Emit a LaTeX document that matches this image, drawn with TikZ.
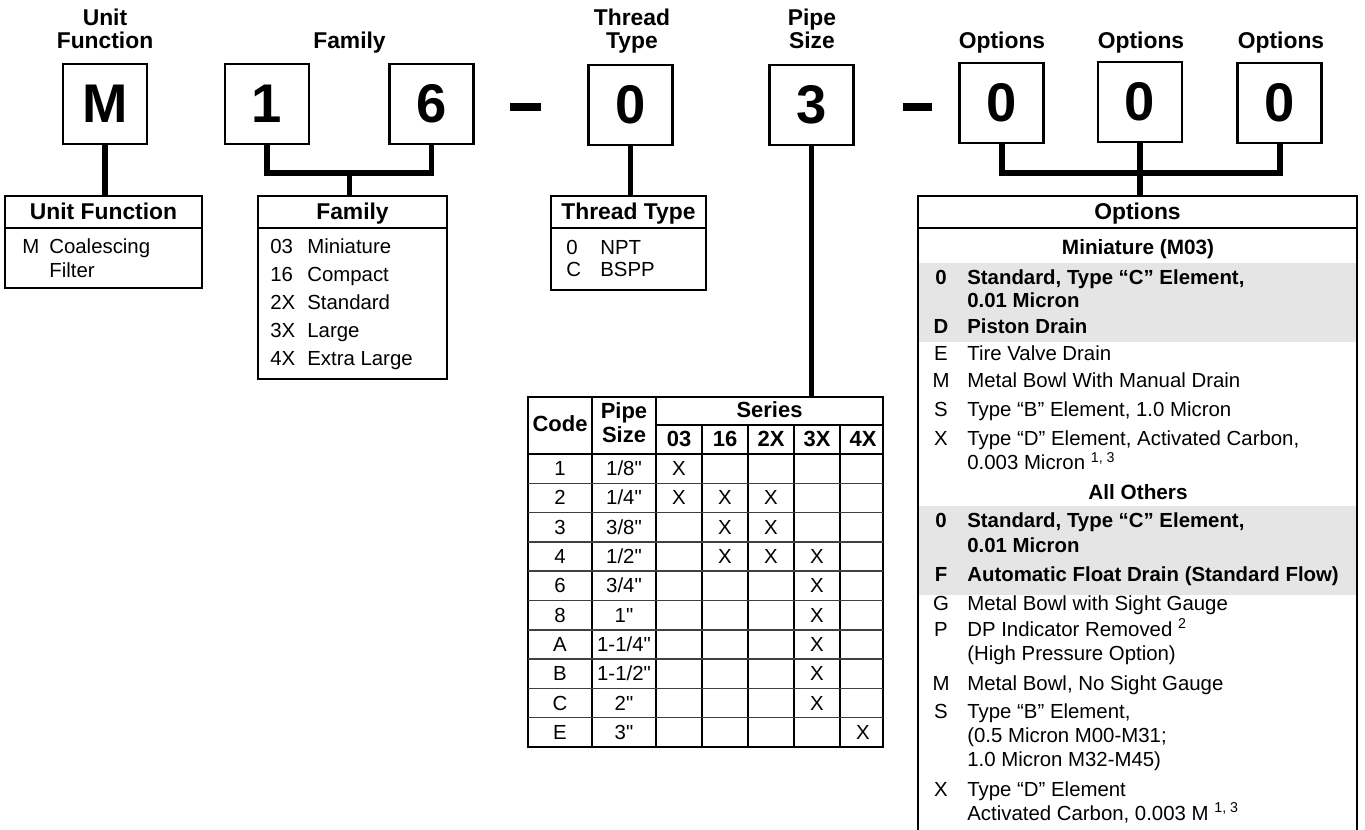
\documentclass[tikz,border=0pt]{standalone}
\usepackage{fontspec}
\setmainfont{Liberation Sans}
\newfontfamily\inchfont{Liberation Sans}
\newcommand{\inch}{{\inchfont\char34}}
\usetikzlibrary{positioning}

\tikzset{
  digitbox/.style={draw, line width=1.5pt, minimum width=1.68cm, minimum height=1.6cm,
    inner sep=0pt, font=\fontsize{31}{31}\selectfont\bfseries},
  toplabel/.style={font=\fontsize{13}{13.1}\selectfont\bfseries, align=center, anchor=base, inner sep=0pt},
  infobox/.style={draw, line width=1.5pt, inner sep=0pt},
  boxhead/.style={font=\fontsize{13}{13}\selectfont\bfseries, anchor=base, inner sep=0pt},
  subhead/.style={font=\fontsize{11.8}{13}\selectfont\bfseries, anchor=base, inner sep=0pt},
  codetxt/.style={font=\fontsize{11.6}{13}\selectfont, anchor=base west, inner sep=0pt},
  desctxt/.style={font=\fontsize{11.6}{13}\selectfont, anchor=base west, inner sep=0pt},
  optcode/.style={font=\fontsize{11.6}{13}\selectfont, anchor=base, inner sep=0pt},
  optbold/.style={font=\fontsize{11.6}{13}\selectfont\bfseries},
  tabhead/.style={font=\fontsize{12.5}{13}\selectfont\bfseries, anchor=base, inner sep=0pt},
  cell/.style={font=\fontsize{11.6}{13}\selectfont, anchor=base, inner sep=0pt},
  link/.style={line width=3.4pt},
  hyphenbar/.style={line width=4.4pt},
  headrule/.style={line width=1.5pt},
  colrule/.style={line width=1.4pt},
  rowrule/.style={line width=0.9pt, black!75},
  band/.style={fill=black!10}
}

\begin{document}
\begin{tikzpicture}[x=0.02cm, y=-0.02cm]
  \useasboundingbox (0,0) rectangle (1365,830);

  % === model code ===
  \node[digitbox] (unit) at (105,104) {M};
  \node[digitbox] (fam1) at (267,104) {1};
  \node[digitbox] (fam2) at (431.5,104) {6};
  \node[digitbox] (thread) at (630.5,105) {0};
  \node[digitbox] (pipe) at (811.5,105) {3};
  \node[digitbox] (opt1) at (1001.5,103) {0};
  \node[digitbox] (opt2) at (1140,102) {0};
  \node[digitbox] (opt3) at (1279.5,103) {0};

  % dashes
  \draw[hyphenbar] (510,107) -- (541,107);
  \draw[hyphenbar] (903,107) -- (932,107);

  % labels over the boxes
  \node[toplabel] (lab-unit) at (105,49) {Unit\\Function};
  \node[toplabel] (lab-fam) at (349.5,49) {Family};
  \node[toplabel] (lab-thread) at (632,49) {Thread\\Type};
  \node[toplabel] (lab-pipe) at (812,49) {Pipe\\Size};
  \node[toplabel] (lab-opt1) at (1002,49) {Options};
  \node[toplabel] (lab-opt2) at (1141,49) {Options};
  \node[toplabel] (lab-opt3) at (1281,49) {Options};

  % === BOX: Unit Function ===
  \node[infobox, minimum width=3.94cm, minimum height=1.84cm] (ufbox) at (103.5,242) {};
  \draw[headrule] (ufbox.west |- 0,228) -- (ufbox.east |- 0,228);
  \node[boxhead] (ufhead) at (103.5,220) {Unit Function};
  \node[codetxt] (uf-code) at (22,254) {M};
  \node[desctxt] (uf-text) at (49,254) {Coalescing};
  \node[desctxt] (uf-text2) at (49,278) {Filter};

  % === BOX: Family ===
  \node[infobox, minimum width=3.78cm, minimum height=3.66cm] (fambox) at (352.5,287.5) {};
  \draw[headrule] (fambox.west |- 0,228) -- (fambox.east |- 0,228);
  \node[boxhead] (famhead) at (352.5,220) {Family};
  \foreach \c/\t [count=\i from 0] in {03/Miniature, 16/Compact, 2X/Standard, 3X/Large, 4X/Extra Large} {
    \node[codetxt] (famc\i) at (270,{254+28*\i}) {\c};
    \node[desctxt] (famt\i) at (307,{254+28*\i}) {\t};
  }

  % === BOX: Thread Type ===
  \node[infobox, minimum width=3.1cm, minimum height=1.88cm] (thrbox) at (628.5,243) {};
  \draw[headrule] (thrbox.west |- 0,228) -- (thrbox.east |- 0,228);
  \node[boxhead] (thrhead) at (628.5,220) {Thread Type};
  \node[codetxt] (thr-c0) at (566,255) {0};
  \node[desctxt] (thr-t0) at (600,255) {NPT};
  \node[codetxt] (thr-c1) at (566,277) {C};
  \node[desctxt] (thr-t1) at (600,277) {BSPP};

  % === TABLE: Pipe Size ===
  \node[infobox, minimum width=7.1cm, minimum height=7cm] (pipetab) at (705.5,572) {};
  \draw[colrule] (592,397) -- (592,747);
  \draw[colrule] (656,397) -- (656,747);
  \draw[colrule] (656,425) -- (883,425);
  \foreach \xc in {702,748,794,840}
    \draw[colrule] (\xc,425) -- (\xc,747);
  \draw[headrule] (528,454) -- (883,454);
  \foreach \r in {1,...,9}
    \draw[rowrule] (528,{454+29.3*\r}) -- (883,{454+29.3*\r});
  \node[tabhead] (th-code) at (560,432) {Code};
  \node[tabhead] (th-pipe) at (624,419) {Pipe};
  \node[tabhead] (th-size) at (624,443) {Size};
  \node[tabhead] (th-series) at (769.5,418) {Series};
  \foreach \h [count=\k from 0] in {03,16,2X,3X,4X}
    \node[tabhead] (ser\k) at ({679+46*\k},447) {\h};
  \foreach \c/\s/\xs [count=\i from 0] in {1/{1/8\inch}/{1}, 2/{1/4\inch}/{1,2,3}, 3/{3/8\inch}/{2,3},
      4/{1/2\inch}/{2,3,4}, 6/{3/4\inch}/{4}, 8/{1\inch}/{4}, A/{1-1/4\inch}/{4}, B/{1-1/2\inch}/{4},
      C/{2\inch}/{4}, E/{3\inch}/{5}} {
    \node[cell] (code\i) at (560,{475.6+29.3*\i}) {\c};
    \node[cell] (size\i) at (624,{475.6+29.3*\i}) {\s};
    \foreach \m in \xs
      \node[cell] (mark\i-\m) at ({679+46*(\m-1)},{475.6+29.3*\i}) {X};
  }

  % === BOX: Options ===
  \fill[band] (918,263) rectangle (1357,342);
  \fill[band] (918,506) rectangle (1357,595);
  \draw[headrule] (918,830) |- (1357,196) -- (1357,830);
  \draw[headrule] (918,228) -- (1357,228);
  \coordinate (opttop) at (1137.5,196);
  \node[boxhead] (opthead) at (1137.5,220) {Options};
  % Miniature
  \node[subhead] (mini) at (1138,255) {Miniature (M03)};
  \node[optcode, optbold] (m-c0) at (941,285) {0};
  \node[desctxt, optbold] (m-t0) at (967,285) {Standard, Type “C” Element,};
  \node[desctxt, optbold] (m-t0b) at (967,308) {0.01 Micron};
  \node[optcode, optbold] (m-cD) at (941,334) {D};
  \node[desctxt, optbold] (m-tD) at (967,334) {Piston Drain};
  \node[optcode] (m-cE) at (941,361) {E};
  \node[desctxt] (m-tE) at (967,361) {Tire Valve Drain};
  \node[optcode] (m-cM) at (941,388) {M};
  \node[desctxt] (m-tM) at (967,388) {Metal Bowl With Manual Drain};
  \node[optcode] (m-cS) at (941,417) {S};
  \node[desctxt] (m-tS) at (967,417) {Type “B” Element, 1.0 Micron};
  \node[optcode] (m-cX) at (941,446) {X};
  \node[desctxt] (m-tX) at (967,446) {Type “D” Element, Activated Carbon,};
  \node[desctxt] (m-tXb) at (967,470) {0.003 Micron \textsuperscript{1, 3}};
  % All others
  \node[subhead] (others) at (1138,500) {All Others};
  \node[optcode, optbold] (a-c0) at (941,528) {0};
  \node[desctxt, optbold] (a-t0) at (967,528) {Standard, Type “C” Element,};
  \node[desctxt, optbold] (a-t0b) at (967,553) {0.01 Micron};
  \node[optcode, optbold] (a-cF) at (941,582) {F};
  \node[desctxt, optbold] (a-tF) at (967,582) {Automatic Float Drain (Standard Flow)};
  \node[optcode] (a-cG) at (941,610) {G};
  \node[desctxt] (a-tG) at (967,610) {Metal Bowl with Sight Gauge};
  \node[optcode] (a-cP) at (941,636) {P};
  \node[desctxt] (a-tP) at (967,636) {DP Indicator Removed \textsuperscript{2}};
  \node[desctxt] (a-tPb) at (967,660) {(High Pressure Option)};
  \node[optcode] (a-cM) at (941,690) {M};
  \node[desctxt] (a-tM) at (967,690) {Metal Bowl, No Sight Gauge};
  \node[optcode] (a-cS) at (941,718) {S};
  \node[desctxt] (a-tS) at (967,718) {Type “B” Element,};
  \node[desctxt] (a-tSb) at (967,742) {(0.5 Micron M00-M31;};
  \node[desctxt] (a-tSc) at (967,766) {1.0 Micron M32-M45)};
  \node[optcode] (a-cX) at (941,796) {X};
  \node[desctxt] (a-tX) at (967,796) {Type “D” Element};
  \node[desctxt] (a-tXb) at (967,820) {Activated Carbon, 0.003 M \textsuperscript{1, 3}};

  % === connectors ===
  \draw[link] (unit.south) -- (unit.south |- ufbox.north);
  \coordinate (fambar) at (349.5,173);
  \draw[link] (fam1.south) |- (fambar) -| (fam2.south);
  \draw[link] (fambar) -- (fambar |- fambox.north);
  \draw[link] (thread.south) -- (thread.south |- thrbox.north);
  \draw[link] (pipe.south) -- (pipe.south |- pipetab.north);
  \coordinate (optbar) at (1140,173);
  \draw[link] (opt1.south) |- (optbar) -| (opt3.south);
  \draw[link] (opt2.south) -- (opt2.south |- opttop);
\end{tikzpicture}
\end{document}
